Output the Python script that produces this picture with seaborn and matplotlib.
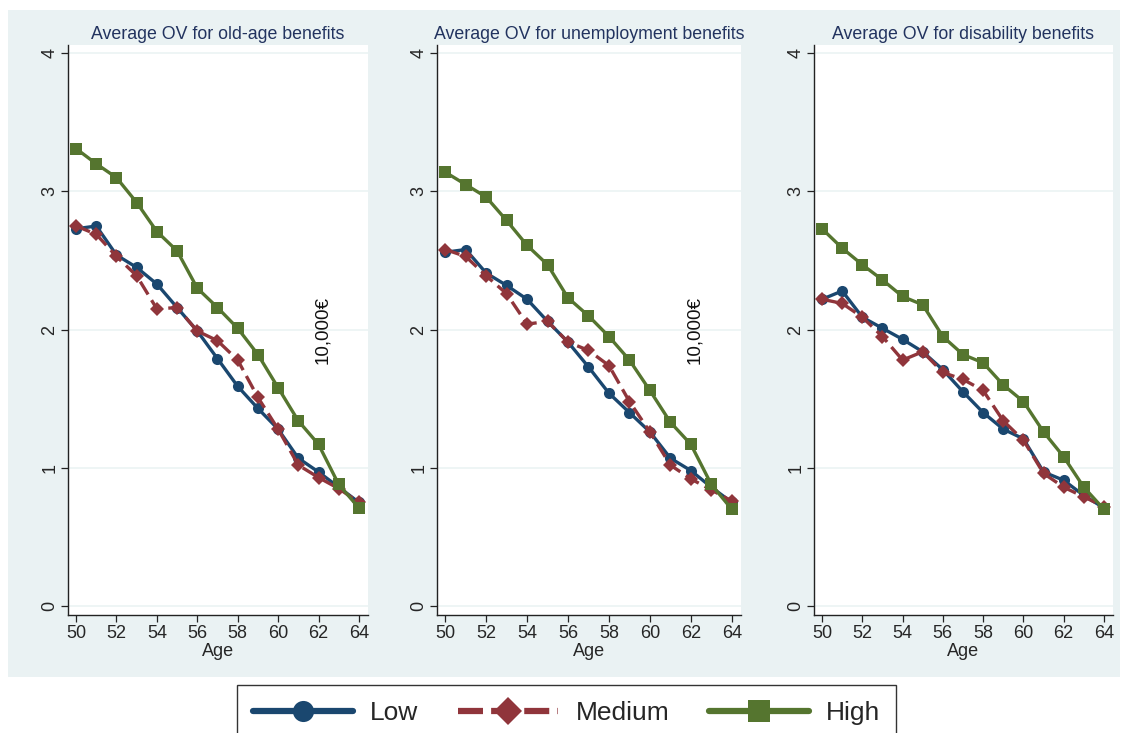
import pandas as pd
import matplotlib
matplotlib.use("Agg")
import matplotlib.pyplot as plt
import seaborn as sns
from matplotlib.lines import Line2D
from matplotlib.patches import Rectangle

# ---- data ----
ages = [50, 51, 52, 53, 54, 55, 56, 57, 58, 59, 60, 61, 62, 63, 64]
groups = ["Low", "Medium", "High"]
titles = ["Average OV for old-age benefits",
          "Average OV for unemployment benefits",
          "Average OV for disability benefits"]

oldage_low = [2.73, 2.75, 2.54, 2.45, 2.33, 2.16, 1.99, 1.79, 1.59, 1.43, 1.28, 1.07, 0.97, 0.86, 0.75]
oldage_med = [2.75, 2.69, 2.53, 2.39, 2.15, 2.16, 1.99, 1.92, 1.78, 1.51, 1.28, 1.02, 0.93, 0.85, 0.75]
oldage_high = [3.31, 3.20, 3.10, 2.92, 2.71, 2.57, 2.30, 2.16, 2.01, 1.82, 1.58, 1.34, 1.17, 0.88, 0.71]

unemp_low = [2.56, 2.58, 2.41, 2.32, 2.22, 2.06, 1.91, 1.73, 1.54, 1.40, 1.26, 1.07, 0.98, 0.86, 0.75]
unemp_med = [2.58, 2.53, 2.39, 2.26, 2.04, 2.06, 1.91, 1.85, 1.74, 1.48, 1.26, 1.02, 0.92, 0.84, 0.76]
unemp_high = [3.14, 3.05, 2.96, 2.79, 2.61, 2.47, 2.23, 2.10, 1.95, 1.78, 1.56, 1.33, 1.17, 0.88, 0.70]

dis_low = [2.22, 2.28, 2.09, 2.01, 1.93, 1.84, 1.71, 1.55, 1.40, 1.28, 1.21, 0.97, 0.91, 0.80, 0.71]
dis_med = [2.22, 2.19, 2.09, 1.95, 1.78, 1.84, 1.69, 1.64, 1.56, 1.34, 1.20, 0.96, 0.86, 0.79, 0.72]
dis_high = [2.73, 2.59, 2.47, 2.36, 2.24, 2.18, 1.95, 1.82, 1.76, 1.60, 1.48, 1.26, 1.08, 0.86, 0.70]

panels = [
    (oldage_low, oldage_med, oldage_high),
    (unemp_low, unemp_med, unemp_high),
    (dis_low, dis_med, dis_high),
]
note_text = "10,000€"
note_panels = [0, 1]

# ---- style ----
sns.set_theme(style="white")
plt.rcParams["font.family"] = ["Liberation Sans", "DejaVu Sans"]

colors = {"Low": "#1A476F", "Medium": "#90353B", "High": "#55752F"}
markers = {"Low": "o", "Medium": "D", "High": "s"}
msizes = {"Low": 8, "Medium": 7.5, "High": 8}
dashed = {"Low": False, "Medium": True, "High": False}
bg = "#EAF2F3"
title_col = "#22335F"

W, H = 1122, 733
fig = plt.figure(figsize=(W / 100, H / 100), dpi=100, facecolor="white")
fig.patches.append(Rectangle((8 / W, 1 - 677 / H), 1112 / W, 667 / H,
                             transform=fig.transFigure, facecolor=bg,
                             edgecolor="none", zorder=-10))

# plot-area boxes in pixels: left, right, top, bottom
boxes = [(68, 368, 45, 615), (437, 741, 45, 615), (814, 1113, 45, 615)]

for i, (vals, box) in enumerate(zip(panels, boxes)):
    l, r, t, b = box
    ax = fig.add_axes([l / W, 1 - b / H, (r - l) / W, (b - t) / H])
    ax.set_facecolor("white")

    df = pd.DataFrame({
        "Age": ages * 3,
        "OV": vals[0] + vals[1] + vals[2],
        "group": ["Low"] * 15 + ["Medium"] * 15 + ["High"] * 15,
    })
    for g in groups:
        sub = df[df["group"] == g]
        sns.lineplot(data=sub, x="Age", y="OV", color=colors[g],
                     marker=markers[g], markersize=msizes[g],
                     markeredgewidth=0, linewidth=2.4, ax=ax)
        if dashed[g]:
            ax.lines[-1].set_dashes((4.5, 2))

    ax.set_xlim(49.6, 64.45)
    ax.set_ylim(-0.065, 4.06)
    ax.set_xticks([50, 52, 54, 56, 58, 60, 62, 64])
    ax.set_yticks([0, 1, 2, 3, 4])
    ax.yaxis.grid(True, color=bg, linewidth=1.1)
    ax.set_axisbelow(True)
    for s in ["top", "right"]:
        ax.spines[s].set_visible(False)
    for s in ["left", "bottom"]:
        ax.spines[s].set_color("#222222")
        ax.spines[s].set_linewidth(1.0)
    ax.tick_params(axis="both", direction="out", length=5, width=0.9,
                   color="#222222", labelsize=13, pad=2,
                   left=True, bottom=True)
    for lab in ax.get_yticklabels():
        lab.set_rotation(90)
        lab.set_va("center")
    ax.set_xlabel("Age", fontsize=13, labelpad=1)
    ax.set_ylabel("")
    ax.set_title(titles[i], fontsize=12.8, color=title_col, pad=4)

    if i in note_panels:
        ax.text(62.2, 2.0, note_text, rotation=90, ha="center", va="center",
                fontsize=13.5, color="#111111")

# ---- legend ----
handles = []
for g in groups:
    handles.append(Line2D([0], [0], color=colors[g], marker=markers[g],
                          markersize=msizes[g] * 1.9, markeredgewidth=0,
                          linewidth=4.5,
                          linestyle=(0, (4, 1.3)) if dashed[g] else "-"))
leg = fig.legend(handles, groups, loc="upper center",
                 bbox_to_anchor=(0.505, 1 - 685 / H), ncol=3, fontsize=19,
                 frameon=True, fancybox=False, edgecolor="black",
                 handlelength=3.8, handletextpad=0.65, columnspacing=1.5,
                 borderpad=0.6, borderaxespad=0)
leg.get_frame().set_linewidth(1.0)

fig.savefig("out.png", dpi=100, facecolor="white")
